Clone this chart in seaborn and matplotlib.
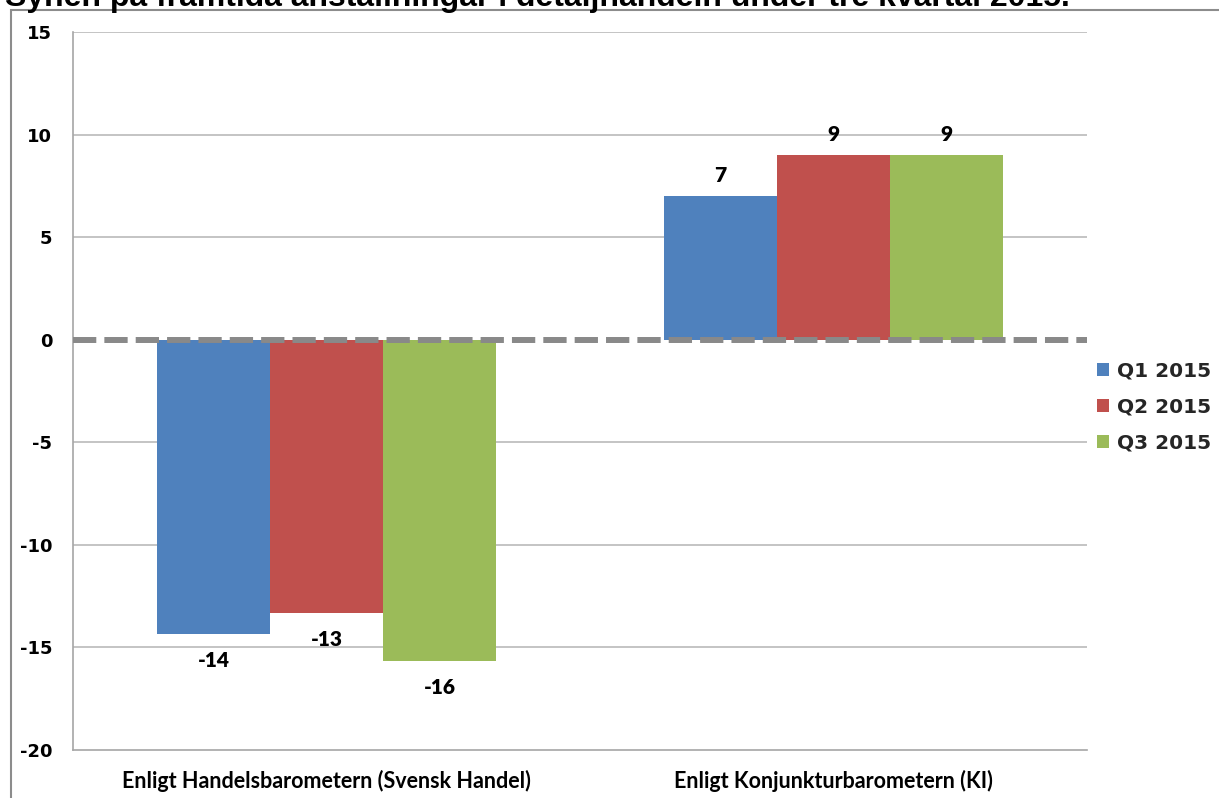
import matplotlib
matplotlib.use("Agg")
import matplotlib.pyplot as plt
from matplotlib.patches import Patch, Rectangle
import seaborn as sns
import pandas as pd

# Survey results per source and quarter
sources = ["Enligt Handelsbarometern (Svensk Handel)", "Enligt Konjunkturbarometern (KI)"]
quarters = ["Q1 2015", "Q2 2015", "Q3 2015"]
handels_values = [-14.35, -13.33, -15.67]
ki_values = [7.0, 9.0, 9.0]
y_ticks = [15, 10, 5, 0, -5, -10, -15, -20]
title = "Synen på framtida anställningar i detaljhandeln under tre kvartal 2015."

colors = ["#4F81BD", "#C0504D", "#9BBB59"]

df = pd.DataFrame({
    "source": [sources[0]] * 3 + [sources[1]] * 3,
    "quarter": quarters * 2,
    "value": handels_values + ki_values,
})

sns.set_theme(style="white")
plt.rcParams["font.family"] = ["DejaVu Sans"]

W, H = 1219, 798
fig = plt.figure(figsize=(W / 100, H / 100), dpi=100)
ax = fig.add_axes([73 / W, 1 - 750 / H, (1087 - 73) / W, (750 - 32) / H])

sns.barplot(data=df, x="source", y="value", hue="quarter", order=sources,
            hue_order=quarters, palette=colors, width=0.669, gap=0,
            saturation=1, errorbar=None, legend=False, ax=ax, zorder=3,
            linewidth=0)

ax.set_xlim(-0.5, 1.5)
ax.set_ylim(-20, 15)
ax.set_yticks(y_ticks)
ax.set_yticklabels([str(t) for t in y_ticks], fontweight="bold", fontsize=13,
                   color="black")
ax.set_xticks(range(len(sources)))
ax.set_xticklabels(sources, family="Lato", fontweight="bold", fontsize=15.5,
                   color="black")
ax.tick_params(axis="y", length=0, pad=15)
ax.tick_params(axis="x", length=0, pad=14)
ax.set_xlabel("")
ax.set_ylabel("")

for t in y_ticks:
    if t not in (0, -20):
        ax.axhline(t, color="#BFBFBF", lw=1.3, zorder=1)
ax.axhline(0, color="#898989", lw=4.3, ls=(0, (3.9, 1.35)), zorder=4)

for name, spine in ax.spines.items():
    if name in ("top", "right"):
        spine.set_visible(False)
    else:
        spine.set_color("#A6A6A6")
        spine.set_linewidth(1.2)

# Value labels beside each bar end
for container in ax.containers:
    for bar in container:
        v = bar.get_height()
        x = bar.get_x() + bar.get_width() / 2
        off = 15 if v >= 0 else -19
        ax.annotate(f"{v:.0f}", (x, v), xytext=(0, off), textcoords="offset points",
                    ha="center", va="center", family="Lato", fontweight="heavy",
                    fontsize=15, color="black", zorder=5)

handles = [Patch(facecolor=c, edgecolor="none") for c in colors]
fig.legend(handles, quarters, loc="center left", bbox_to_anchor=(1097 / W, 1 - 407 / H),
           frameon=False, handlelength=0.62, handleheight=0.62, handletextpad=0.35,
           labelspacing=0.85, borderpad=0, borderaxespad=0,
           prop={"weight": "bold", "size": 14.5})

# Chart area frame
fig.add_artist(Rectangle((11 / W, -0.05), 1.1, 1 - 10 / H + 0.05,
                         transform=fig.transFigure, fill=False,
                         edgecolor="#8C8C8C", lw=1.5, clip_on=False))

fig.text(5 / W, 1 - 6 / H, title, ha="left", va="baseline",
         family="Liberation Sans", fontweight="bold", fontsize=23, color="black")

fig.savefig("out.png", dpi=100, facecolor="white")
